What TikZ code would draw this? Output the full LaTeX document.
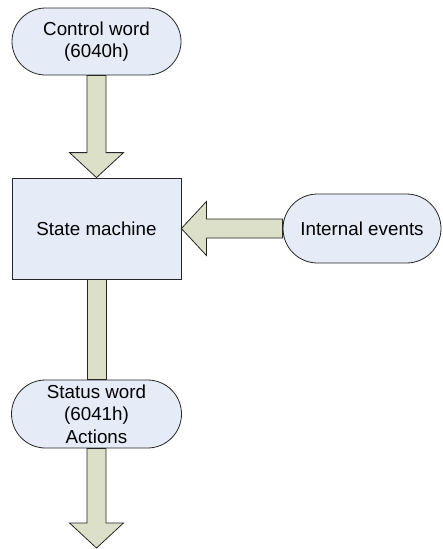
\documentclass[tikz,border=0pt]{standalone}
\usepackage{fontspec}
\setmainfont{Liberation Sans}
\usetikzlibrary{calc,shapes.misc}

\definecolor{nodefill}{HTML}{E6ECF7}
\definecolor{arrowfill}{HTML}{DCE0C8}

% block arrow from anchor #1 to anchor #2
\newcommand{\blockarrow}[2]{%
  \path (#1) coordinate (ba-s) (#2) coordinate (ba-t);
  \path ($(ba-t)!25pt!(ba-s)$) coordinate (ba-h);
  \draw[arrowbody] ($(ba-s)!9.5pt!90:(ba-t)$) -- ($(ba-h)!9.5pt!-90:(ba-s)$)
    -- ($(ba-h)!27pt!-90:(ba-s)$) -- (ba-t) -- ($(ba-h)!27pt!90:(ba-s)$)
    -- ($(ba-h)!9.5pt!90:(ba-s)$) -- ($(ba-s)!9.5pt!-90:(ba-t)$) -- cycle;
}

\begin{document}
\begin{tikzpicture}[x=1pt,y=-1pt,
  terminal/.style={rounded rectangle,draw=black!85,fill=nodefill,line width=0.8pt,
    align=center,inner sep=0pt,minimum width=169pt,minimum height=67pt,
    font=\fontsize{18.8}{22.5}\selectfont},
  process/.style={rectangle,draw=black!85,fill=nodefill,line width=0.8pt,
    minimum width=169pt,minimum height=101pt,font=\fontsize{18.8}{22.5}\selectfont},
  arrowbody/.style={draw=black!85,fill=arrowfill,line width=0.8pt,line join=miter}]
  \useasboundingbox (0,0) rectangle (443,549);

  \node[terminal] (cw) at (96.5,41.5) {Control word\\(6040h)};
  \node[process] (sm) at (96.5,228.5) {State machine};
  \node[terminal,minimum width=158pt,minimum height=69pt] (ie) at (362,228.5) {Internal events};
  \node[terminal,minimum width=170pt,minimum height=68pt] (sw) at (96.5,414) {Status word\\(6041h)\\Actions};
  \coordinate (out) at (96.5,548);

  \blockarrow{cw.south}{sm.north}
  \blockarrow{ie.west}{sm.east}
  \draw[arrowbody] ($(sm.south)+(-9.5,0)$) rectangle ($(sw.north)+(9.5,0)$);
  \blockarrow{sw.south}{out}
\end{tikzpicture}
\end{document}
